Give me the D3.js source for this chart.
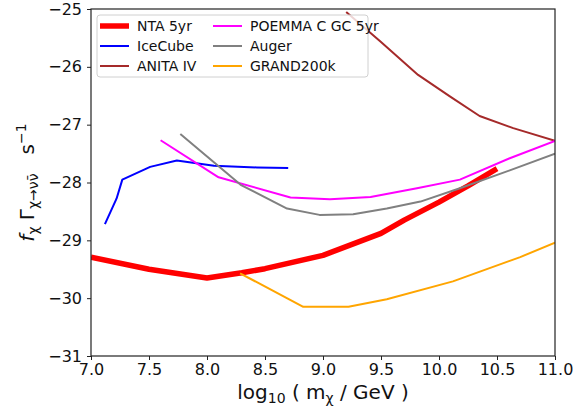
<!DOCTYPE html>
<html>
<head>
<meta charset="utf-8">
<script src="https://cdn.jsdelivr.net/npm/d3@7"></script>
<style>
  body { margin: 0; background: white; }
  svg text { font-family: "DejaVu Sans", sans-serif; fill: #111; }
</style>
</head>
<body>
<div id="chart"></div>
<script>
// x = log10(m / GeV), y = log10 of decay rate
var ntaX = [7.0, 7.5, 8.0, 8.3, 8.5, 9.0, 9.5, 9.7, 10.0, 10.25, 10.5];
var ntaY = [-29.29, -29.5, -29.65, -29.56, -29.49, -29.26, -28.88, -28.65, -28.34, -28.06, -27.76];

var icecubeX = [7.12, 7.22, 7.27, 7.51, 7.74, 8.06, 8.43, 8.70];
var icecubeY = [-28.72, -28.28, -27.95, -27.73, -27.62, -27.71, -27.74, -27.75];

var anitaX = [9.2, 9.5, 9.82, 10.1, 10.35, 10.64, 11.0];
var anitaY = [-25.05, -25.57, -26.14, -26.52, -26.85, -27.06, -27.28];

var poemmaX = [7.6, 8.1, 8.72, 9.06, 9.41, 9.81, 10.18, 10.61, 11.0];
var poemmaY = [-27.27, -27.91, -28.26, -28.29, -28.25, -28.1, -27.95, -27.58, -27.28];

var augerX = [7.77, 8.29, 8.69, 8.97, 9.26, 9.55, 9.84, 10.18, 10.61, 11.0];
var augerY = [-27.16, -28.04, -28.45, -28.56, -28.55, -28.45, -28.33, -28.1, -27.79, -27.5];

var grandX = [8.285, 8.83, 9.22, 9.55, 10.12, 10.7, 11.0];
var grandY = [-29.57, -30.15, -30.15, -30.02, -29.71, -29.29, -29.04];

var xTicks = [7.0, 7.5, 8.0, 8.5, 9.0, 9.5, 10.0, 10.5, 11.0];
var yTicks = [-25, -26, -27, -28, -29, -30, -31];

var series = [
    {name: "NTA 5yr", x: ntaX, y: ntaY, color: "#ff0000", w: 5.5},
    {name: "IceCube", x: icecubeX, y: icecubeY, color: "#0000ff", w: 2},
    {name: "ANITA IV", x: anitaX, y: anitaY, color: "#a52a2a", w: 2},
    {name: "POEMMA C GC 5yr", x: poemmaX, y: poemmaY, color: "#ff00ff", w: 2},
    {name: "Auger", x: augerX, y: augerY, color: "#808080", w: 2},
    {name: "GRAND200k", x: grandX, y: grandY, color: "#ffa500", w: 2}
];

var W = 586, H = 409;
var margin = {top: 9, right: 31, bottom: 53, left: 91},
    width = W - margin.left - margin.right,
    height = H - margin.top - margin.bottom;

var svg = d3.select("#chart")
    .append("svg")
        .attr("width", W)
        .attr("height", H);

var g = svg.append("g")
    .attr("transform", "translate(" + margin.left + "," + margin.top + ")");

var x = d3.scaleLinear().domain([7, 11]).range([0, width]);
var y = d3.scaleLinear().domain([-31, -25]).range([height, 0]);

g.append("clipPath").attr("id", "clip")
    .append("rect").attr("width", width).attr("height", height);

var line = d3.line()
    .x(function(d) { return x(d[0]); })
    .y(function(d) { return y(d[1]); });

// curves
var plot = g.append("g").attr("clip-path", "url(#clip)");
series.forEach(function(s) {
    var pts = s.x.map(function(v, i) { return [v, s.y[i]]; });
    plot.append("path")
        .datum(pts)
        .attr("d", line)
        .style("fill", "none")
        .style("stroke", s.color)
        .style("stroke-width", s.w)
        .style("stroke-linejoin", "round");
});

// axes
function minus(v) { return String(v).replace("-", "\u2212"); }

var xAxis = g.append("g")
    .attr("transform", "translate(0," + height + ")")
    .call(d3.axisBottom(x).tickValues(xTicks).tickSize(4).tickPadding(4)
        .tickFormat(d3.format(".1f")));
var yAxis = g.append("g")
    .call(d3.axisLeft(y).tickValues(yTicks).tickSize(4).tickPadding(5)
        .tickFormat(function(d) { return minus(d); }));

[xAxis, yAxis].forEach(function(a) {
    a.selectAll("text").style("font-size", "16px").style("fill", "#111");
    a.selectAll("line").style("stroke", "#222");
    a.select(".domain").remove();
});

g.append("rect")
    .attr("width", width).attr("height", height)
    .style("fill", "none").style("stroke", "#222").style("stroke-width", 1.2);

// legend
var legend = g.append("g").attr("transform", "translate(6,6)");
legend.append("rect")
    .attr("width", 271).attr("height", 62)
    .attr("rx", 3)
    .style("fill", "white").style("fill-opacity", 0.8)
    .style("stroke", "#d0d0d0");

legend.selectAll("g.item")
    .data(series)
    .enter()
    .append("g")
        .attr("class", "item")
        .attr("transform", function(d, i) {
            return "translate(" + (i < 3 ? 3 : 116) + "," + (11 + (i % 3) * 20) + ")";
        })
    .each(function(d) {
        var item = d3.select(this);
        item.append("line")
            .attr("x1", 0).attr("x2", 29)
            .style("stroke", d.color)
            .style("stroke-width", d.w);
        item.append("text")
            .attr("x", 37).attr("dy", "0.35em")
            .style("font-size", "14px")
            .text(d.name);
    });

// axis labels
var xl = svg.append("text")
    .attr("x", margin.left + width / 2)
    .attr("y", 399)
    .attr("text-anchor", "middle")
    .style("font-size", "20px");
xl.append("tspan").text("log");
xl.append("tspan").attr("dy", 4).style("font-size", "14px").text("10");
xl.append("tspan").attr("dy", -4).text(" ( m");
xl.append("tspan").attr("dy", 4).style("font-size", "14px").text("\u03c7");
xl.append("tspan").attr("dy", -4).text(" / GeV )");

var yl = svg.append("text")
    .attr("transform", "translate(34," + (margin.top + height / 2) + ") rotate(-90)")
    .attr("text-anchor", "middle")
    .style("font-size", "20px");
yl.append("tspan").style("font-style", "italic").text("f");
yl.append("tspan").attr("dy", 4).style("font-size", "14px").text("\u03c7");
yl.append("tspan").attr("dy", -4).text(" \u0393");
yl.append("tspan").attr("dy", 4).style("font-size", "14px").text("\u03c7\u2192\u03bd\u03bd\u0304");
yl.append("tspan").attr("dy", -4).text("\u00a0\u00a0\u00a0s");
yl.append("tspan").attr("dy", -8).style("font-size", "14px").text("\u2212");
yl.append("tspan").style("font-size", "14px").text("1");
</script>
</body>
</html>
